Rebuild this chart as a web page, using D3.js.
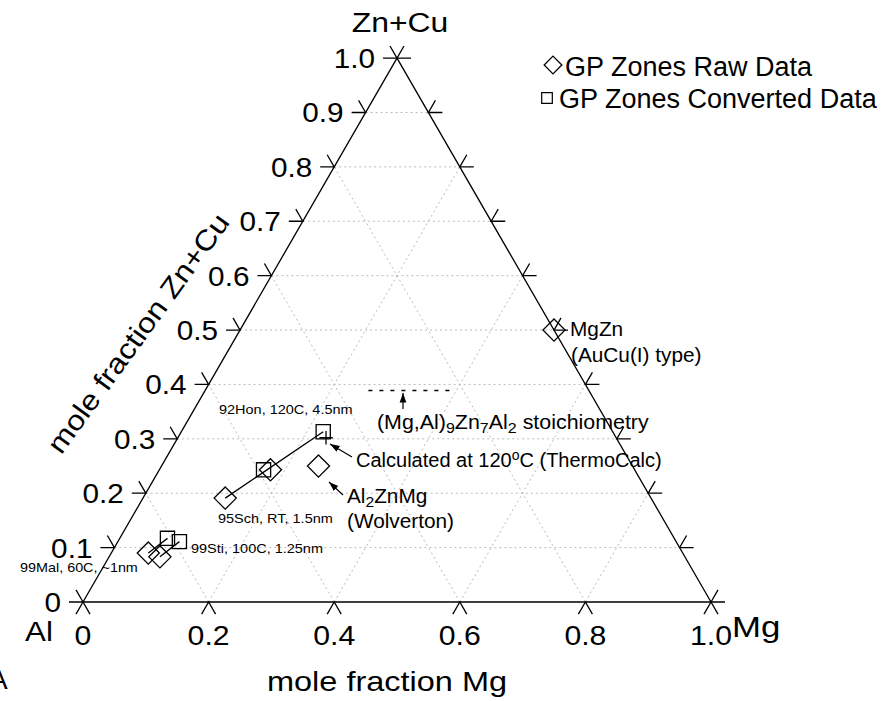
<!DOCTYPE html>
<html>
<head>
<meta charset="utf-8">
<script src="https://cdn.jsdelivr.net/npm/d3@7"></script>
<style>
  body { margin: 0; background: #fff; }
  text { font-family: "Liberation Sans", Arial, sans-serif; fill: #000; }
</style>
</head>
<body>
<svg width="896" height="701"></svg>
<script>
// compositions given as [Mg, Zn+Cu] mole fractions (Al is the rest)
var rawMg = [0.059, 0.081, 0.131, 0.177, 0.25, 0.5];
var rawZn = [0.090, 0.083, 0.191, 0.243, 0.25, 0.5];
var convMg = [0.076, 0.098, 0.166, 0.226];
var convZn = [0.117, 0.111, 0.243, 0.313];
// raw point -> converted point
var links = [[0, 0], [1, 1], [2, 3]];
var calcMg = [0.236], calcZn = [0.302];
var stoichZn = 7 / 18, stoichMg = [0.26, 0.39];

var sideTicks = [0, 0.1, 0.2, 0.3, 0.4, 0.5, 0.6, 0.7, 0.8, 0.9, 1.0];
var sideLabels = ["0", "0.1", "0.2", "0.3", "0.4", "0.5", "0.6", "0.7", "0.8", "0.9", "1.0"];
var baseTicks = [0, 0.2, 0.4, 0.6, 0.8, 1.0];
var baseLabels = ["0", "0.2", "0.4", "0.6", "0.8", "1.0"];
var gridZn = [0.1, 0.2, 0.3, 0.4, 0.5, 0.6, 0.7, 0.8, 0.9];
var gridMg = [0.2, 0.4, 0.6, 0.8];

var svg = d3.select("svg");
var xScale = d3.scaleLinear().domain([0, 1]).range([83, 711]);
var yScale = d3.scaleLinear().domain([0, 1]).range([602, 58.1]);
function px(mg, zn) { return xScale(mg + zn / 2); }
function py(zn) { return yScale(zn); }

var T = 14, c60 = 0.5, s60 = Math.sqrt(3) / 2;

// text that is a little wider than the font, as in the original figure
function label(x, y, size, str, anchor, k) {
    return svg.append("text")
        .attr("transform", "translate(" + x + "," + y + ") scale(" + (k || 1) + ",1)")
        .attr("text-anchor", anchor || "start").attr("font-size", size).text(str);
}

// grid
var grid = svg.append("g").attr("stroke", "#bbb").attr("stroke-width", 1)
    .attr("stroke-dasharray", "2,3").attr("fill", "none");
gridZn.forEach(function (z) {
    grid.append("line").attr("x1", px(0, z)).attr("y1", py(z))
        .attr("x2", px(1 - z, z)).attr("y2", py(z));
});
gridMg.forEach(function (m) {
    grid.append("line").attr("x1", px(m, 0)).attr("y1", py(0))
        .attr("x2", px(m, 1 - m)).attr("y2", py(1 - m));
    grid.append("line").attr("x1", px(m, 0)).attr("y1", py(0))
        .attr("x2", px(0, m)).attr("y2", py(m));
});

// triangle
var axes = svg.append("g").attr("stroke", "#000").attr("stroke-width", 1.3).attr("fill", "none");
axes.append("path").attr("d", "M" + px(0, 0) + "," + py(0) + "L" + px(1, 0) + "," + py(0) +
    "L" + px(0, 1) + "," + py(1) + "Z");

// left + right ticks
sideTicks.forEach(function (z, i) {
    var lx = px(0, z), rx = px(1 - z, z), y = py(z);
    axes.append("path").attr("d", "M" + (lx - T) + "," + y + "L" + lx + "," + y +
        "L" + (lx - T * c60) + "," + (y - T * s60));
    axes.append("path").attr("d", "M" + (rx + T) + "," + y + "L" + rx + "," + y +
        "L" + (rx + T * c60) + "," + (y - T * s60));
    label(lx - T - 8, y + 10, 27, sideLabels[i], "end", 1.1);
});
// bottom ticks
baseTicks.forEach(function (m, i) {
    var x = px(m, 0), y = py(0);
    axes.append("path").attr("d", "M" + (x - T * c60) + "," + (y + T * s60) + "L" + x + "," + y +
        "L" + (x + T * c60) + "," + (y + T * s60));
    label(x, y + 43, 27, baseLabels[i], "middle", 1.12);
});

// axis titles
label(400, 32, 28, "Zn+Cu", "middle", 1.14);
label(25, 641, 28, "Al", "start", 1.12);
label(732, 637, 29, "Mg", "start", 1.2);
label(-11, 689, 28, "A", "start", 1);
label(387, 691, 28, "mole fraction Mg", "middle", 1.16);
svg.append("text").attr("transform", "translate(146,339) rotate(-54) scale(1.14,1)")
    .attr("text-anchor", "middle").attr("font-size", 28).text("mole fraction Zn+Cu");

// connecting lines
svg.append("g").selectAll("line").data(links).enter().append("line")
    .attr("x1", function (d) { return px(rawMg[d[0]], rawZn[d[0]]); })
    .attr("y1", function (d) { return py(rawZn[d[0]]); })
    .attr("x2", function (d) { return px(convMg[d[1]], convZn[d[1]]); })
    .attr("y2", function (d) { return py(convZn[d[1]]); })
    .attr("stroke", "#000").attr("stroke-width", 1.3);

// stoichiometry dashed line
svg.append("line").attr("x1", px(stoichMg[0], stoichZn)).attr("x2", px(stoichMg[1], stoichZn))
    .attr("y1", py(stoichZn)).attr("y2", py(stoichZn))
    .attr("stroke", "#000").attr("stroke-width", 1.3).attr("stroke-dasharray", "4,7");

// markers
var diamond = d3.symbol().type(d3.symbolDiamond2).size(2 * 12.5 * 12.5);
var square = d3.symbol().type(d3.symbolSquare2).size(16 * 16);
svg.append("g").selectAll("path").data(rawMg).enter().append("path")
    .attr("d", diamond)
    .attr("transform", function (d, i) { return "translate(" + px(d, rawZn[i]) + "," + py(rawZn[i]) + ")"; })
    .attr("fill", "none").attr("stroke", "#000").attr("stroke-width", 1.3);
svg.append("g").selectAll("path").data(convMg).enter().append("path")
    .attr("d", square)
    .attr("transform", function (d, i) { return "translate(" + px(d, convZn[i]) + "," + py(convZn[i]) + ")"; })
    .attr("fill", "none").attr("stroke", "#000").attr("stroke-width", 1.3);
svg.append("g").selectAll("path").data(calcMg).enter().append("path")
    .attr("d", d3.symbol().type(d3.symbolPlus).size(60))
    .attr("transform", function (d, i) { return "translate(" + px(d, calcZn[i]) + "," + py(calcZn[i]) + ")"; })
    .attr("fill", "none").attr("stroke", "#000").attr("stroke-width", 1.3);

// arrows
svg.append("defs").append("marker").attr("id", "arr").attr("viewBox", "0 0 10 10")
    .attr("refX", 10).attr("refY", 5).attr("markerWidth", 8).attr("markerHeight", 8)
    .attr("orient", "auto").append("path").attr("d", "M0,1.5L10,5L0,8.5Z").attr("fill", "#000");
function arrow(x1, y1, x2, y2) {
    svg.append("line").attr("x1", x1).attr("y1", y1).attr("x2", x2).attr("y2", y2)
        .attr("stroke", "#000").attr("stroke-width", 1.2).attr("marker-end", "url(#arr)");
}
arrow(403, 409, 403, 393);
arrow(352, 457, 330, 444);
arrow(343, 495, 329, 482);

// annotations
function note(x, y, size, parts, k) {
    var t = svg.append("text")
        .attr("transform", "translate(" + x + "," + y + ") scale(" + (k || 1) + ",1)")
        .attr("font-size", size);
    parts.forEach(function (p) {
        var s = t.append("tspan").text(p[0]);
        if (p[1] === "sub") s.attr("dy", 4).attr("font-size", size * 0.75);
        if (p[1] === "sup") s.attr("dy", -7).attr("font-size", size * 0.7);
        if (p[1] === "back") s.attr("dy", p[2]);
    });
}
note(219, 414, 12.5, [["92Hon, 120C, 4.5nm"]], 1.16);
note(218, 523, 12.5, [["95Sch, RT, 1.5nm"]], 1.16);
note(191, 553, 12.5, [["99Sti, 100C, 1.25nm"]], 1.16);
note(20, 572, 12.5, [["99Mal, 60C, ~1nm"]], 1.15);
note(377, 429, 20, [["(Mg,Al)"], ["9", "sub"], ["Zn", "back", -4], ["7", "sub"], ["Al", "back", -4],
    ["2", "sub"], [" stoichiometry", "back", -4]], 1.07);
note(356, 467, 20, [["Calculated at 120"], ["o", "sup"], ["C (ThermoCalc)", "back", 7]], 1);
note(347, 503, 20, [["Al"], ["2", "sub"], ["ZnMg", "back", -4]], 1.04);
note(347, 528, 20, [["(Wolverton)"]], 1.04);
note(570, 336, 20, [["MgZn"]], 1.04);
note(571, 362, 20, [["(AuCu(I) type)"]], 1.04);

// legend
var legend = svg.append("g");
legend.append("path").attr("d", d3.symbol().type(d3.symbolDiamond2).size(2 * 10 * 10))
    .attr("transform", "translate(553,65)").attr("fill", "none").attr("stroke", "#000").attr("stroke-width", 1.3);
legend.append("path").attr("d", d3.symbol().type(d3.symbolSquare2).size(12 * 12))
    .attr("transform", "translate(547,98)").attr("fill", "none").attr("stroke", "#000").attr("stroke-width", 1.2);
legend.append("text").attr("x", 565).attr("y", 76).attr("font-size", 27).text("GP Zones Raw Data");
legend.append("text").attr("x", 559).attr("y", 108).attr("font-size", 27).text("GP Zones Converted Data");
</script>
</body>
</html>
